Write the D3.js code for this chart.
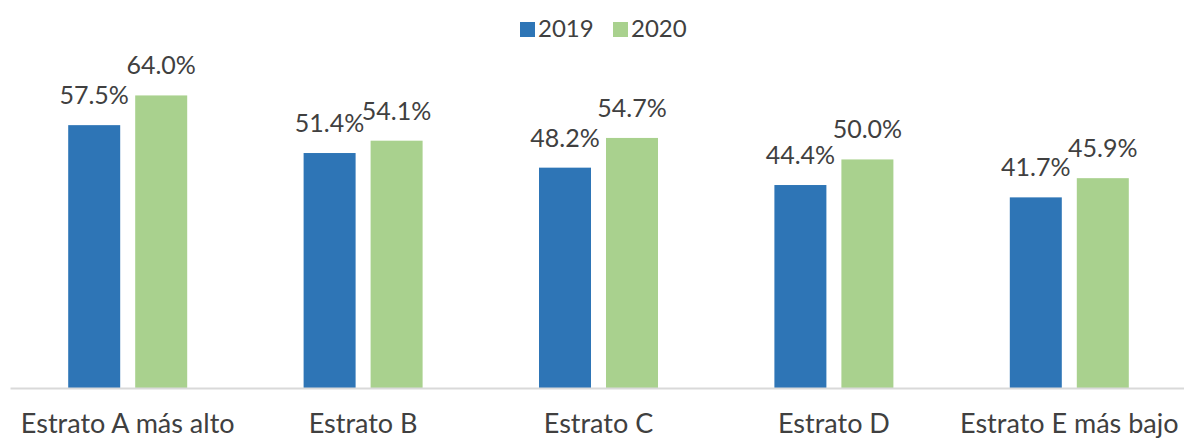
<!DOCTYPE html>
<html>
<head>
	<title>Estratos 2019 - 2020</title>
	<meta charset="utf-8">
	<script src="https://cdnjs.cloudflare.com/ajax/libs/d3/7.8.5/d3.min.js"></script>
	<style type="text/css">
		body { margin: 0; background: #fff; }
		text { font-family: Lato, "Open Sans", sans-serif; fill: #404040; }
	</style>
</head>
<body>
	<script type="text/javascript">

		let categories = ['Estrato A más alto', 'Estrato B', 'Estrato C', 'Estrato D', 'Estrato E más bajo'];
		let series = ['2019', '2020'];
		let values2019 = [57.5, 51.4, 48.2, 44.4, 41.7];
		let values2020 = [64.0, 54.1, 54.7, 50.0, 45.9];
		let colors = ['#2E75B6', '#A9D18E'];

		let width = 1184, height = 438;

		let svg = d3.select('body').append('svg')
			.attr('width', width)
			.attr('height', height);

		let x0 = d3.scaleBand().domain(categories).range([10, 1187]).padding(0);
		let groupW = 119;
		let x1 = d3.scaleBand().domain(series)
			.range([(x0.bandwidth() - groupW) / 2, (x0.bandwidth() + groupW) / 2])
			.paddingInner(15 / 67);
		let y = d3.scaleLinear().domain([0, 70]).range([388, 68]);
		let color = d3.scaleOrdinal().domain(series).range(colors);

		let rows = categories.map((c, i) => ({ cat: c, vals: [
			{ s: '2019', v: values2019[i] },
			{ s: '2020', v: values2020[i] }
		]}));

		let groups = svg.selectAll('g.grp').data(rows).enter().append('g')
			.attr('class', 'grp')
			.attr('transform', d => `translate(${x0(d.cat)},0)`);

		groups.selectAll('rect').data(d => d.vals).enter().append('rect')
			.attr('x', d => x1(d.s))
			.attr('y', d => y(d.v))
			.attr('width', x1.bandwidth())
			.attr('height', d => y(0) - y(d.v))
			.attr('fill', d => color(d.s));

		groups.selectAll('text.lbl').data(d => d.vals).enter().append('text')
			.attr('class', 'lbl')
			.attr('x', d => x1(d.s) + x1.bandwidth() / 2)
			.attr('y', d => y(d.v) - 21)
			.attr('text-anchor', 'middle')
			.style('font-size', '25px')
			.text(d => d.v.toFixed(1) + '%');

		// axis line + category labels
		let xAxis = svg.append('g')
			.attr('transform', `translate(0,${y(0)})`)
			.call(d3.axisBottom(x0).tickSize(0));
		xAxis.select('.domain').attr('stroke', '#D9D9D9').attr('stroke-width', 2);
		xAxis.selectAll('text')
			.attr('y', 45)
			.attr('dy', 0)
			.style('font-size', '27px')
			.attr('fill', '#404040');

		// legend
		let legend = svg.append('g').selectAll('g').data(series).enter().append('g')
			.attr('transform', (d, i) => `translate(${520 + i * 93},22)`);
		legend.append('rect')
			.attr('width', 15).attr('height', 15)
			.attr('fill', d => color(d));
		legend.append('text')
			.attr('x', 18).attr('y', 15)
			.style('font-size', '24px')
			.text(d => d);
	</script>
</body>
</html>
